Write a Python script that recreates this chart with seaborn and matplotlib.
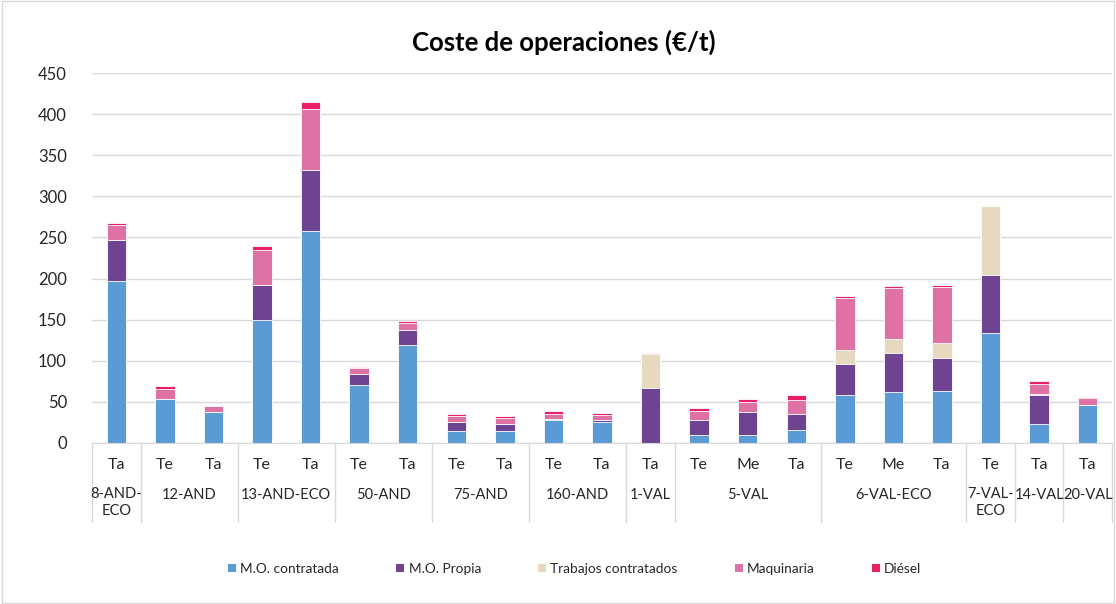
import numpy as np
import pandas as pd
import matplotlib.pyplot as plt
import seaborn as sns
from matplotlib.patches import Patch, Rectangle

groups = ['8-AND-\nECO', '12-AND', '13-AND-ECO', '50-AND', '75-AND', '160-AND',
          '1-VAL', '5-VAL', '6-VAL-ECO', '7-VAL-\nECO', '14-VAL', '20-VAL']
group_sizes = [1, 2, 2, 2, 2, 2, 1, 3, 3, 1, 1, 1]
periods = ['Ta', 'Te', 'Ta', 'Te', 'Ta', 'Te', 'Ta', 'Te', 'Ta', 'Te', 'Ta',
           'Ta', 'Te', 'Me', 'Ta', 'Te', 'Me', 'Ta', 'Te', 'Ta', 'Ta']

mo_contratada = [197, 54, 38, 150, 258, 71, 119, 15, 14, 27.5, 26,
                 0, 10, 10, 15.5, 58, 62, 63, 134, 23, 46]
mo_propia = [50, 0, 0, 42, 74, 13, 18, 11, 9.5, 1.5, 1.5,
             67, 18, 28, 20, 38, 47, 40, 70, 35, 0]
trabajos = [0, 0, 0, 0, 0, 0, 0, 0, 0, 0, 0,
            41, 0, 0, 0, 17.5, 17.5, 19, 84, 1, 0]
maquinaria = [18, 12, 7, 43, 74, 7, 8.5, 7, 6.5, 6.5, 6.5,
              1, 11, 12, 17, 63, 62.5, 67.5, 0, 12.5, 9]
diesel = [2.5, 3, 0, 5, 9, 1.5, 2.5, 2.5, 3, 3, 3,
          0.3, 3.5, 3.5, 5.5, 2.5, 2.5, 2.5, 0, 4, 0.8]

series = ['M.O. contratada', 'M.O. Propia', 'Trabajos contratados', 'Maquinaria', 'Diésel']
colors = ['#5B9BD5', '#6E4392', '#E5DABD', '#DE72A5', '#E81E68']

sns.set_style('white')
plt.rcParams['font.family'] = ['Lato', 'DejaVu Sans']

df = pd.DataFrame({'pos': np.arange(len(periods)),
                   series[0]: mo_contratada, series[1]: mo_propia,
                   series[2]: trabajos, series[3]: maquinaria, series[4]: diesel})
cum = df[series].cumsum(axis=1)

fig = plt.figure(figsize=(11.16, 6.04), dpi=100)
ax = fig.add_axes([0.0824, 0.2666, 0.914, 0.6124])

# cumulative totals drawn from the top layer down, so each segment shows
for name, col in reversed(list(zip(series, colors))):
    sns.barplot(x=df['pos'], y=cum[name], color=col, width=0.4, errorbar=None,
                edgecolor='white', linewidth=0.6, saturation=1, ax=ax)

n = len(periods)
ax.set_xlim(-0.5, n - 0.5)
ax.set_ylim(0, 450)
ax.set_yticks(range(0, 451, 50))
ax.tick_params(axis='y', labelsize=12, length=0, pad=18, colors='#262626')
ax.set_xticks([])
ax.set_xlabel('')
ax.set_ylabel('')
ax.grid(axis='y', color='#D9D9D9', linewidth=1)
ax.set_axisbelow(True)
for s in ['top', 'right', 'left']:
    ax.spines[s].set_visible(False)
ax.spines['bottom'].set_color('#D9D9D9')

tr = ax.get_xaxis_transform()
for i, p in enumerate(periods):
    ax.text(i, -0.06, p, transform=tr, ha='center', va='center', fontsize=11.5, color='#262626')

start = 0
bounds = [-0.5]
for g, size in zip(groups, group_sizes):
    center = start + (size - 1) / 2
    if '\n' in g:
        ax.text(center, -0.118, g, transform=tr, ha='center', va='top',
                fontsize=10.5, color='#262626', linespacing=1.3)
    else:
        ax.text(center, -0.14, g, transform=tr, ha='center', va='center',
                fontsize=10.5, color='#262626')
    start += size
    bounds.append(start - 0.5)
for b in bounds:
    ax.plot([b, b], [0, -0.215], transform=tr, color='#D9D9D9', lw=1, clip_on=False)

fig.text(0.505, 0.93, 'Coste de operaciones (€/t)', ha='center', va='center',
         fontsize=18.5, fontweight='bold', color='black')

handles = [Patch(facecolor=c, edgecolor='none') for c in colors]
fig.legend(handles, series, loc='center', bbox_to_anchor=(0.515, 0.058), ncol=5,
           frameon=False, fontsize=9.8, handlelength=0.6, handleheight=0.6,
           handletextpad=0.3, columnspacing=4.2, labelcolor='#262626')

fig.patches.append(Rectangle((0.002, 0.002), 0.996, 0.996, transform=fig.transFigure,
                             fill=False, edgecolor='#D9D9D9', lw=1))

fig.savefig('out.png', dpi=100)
